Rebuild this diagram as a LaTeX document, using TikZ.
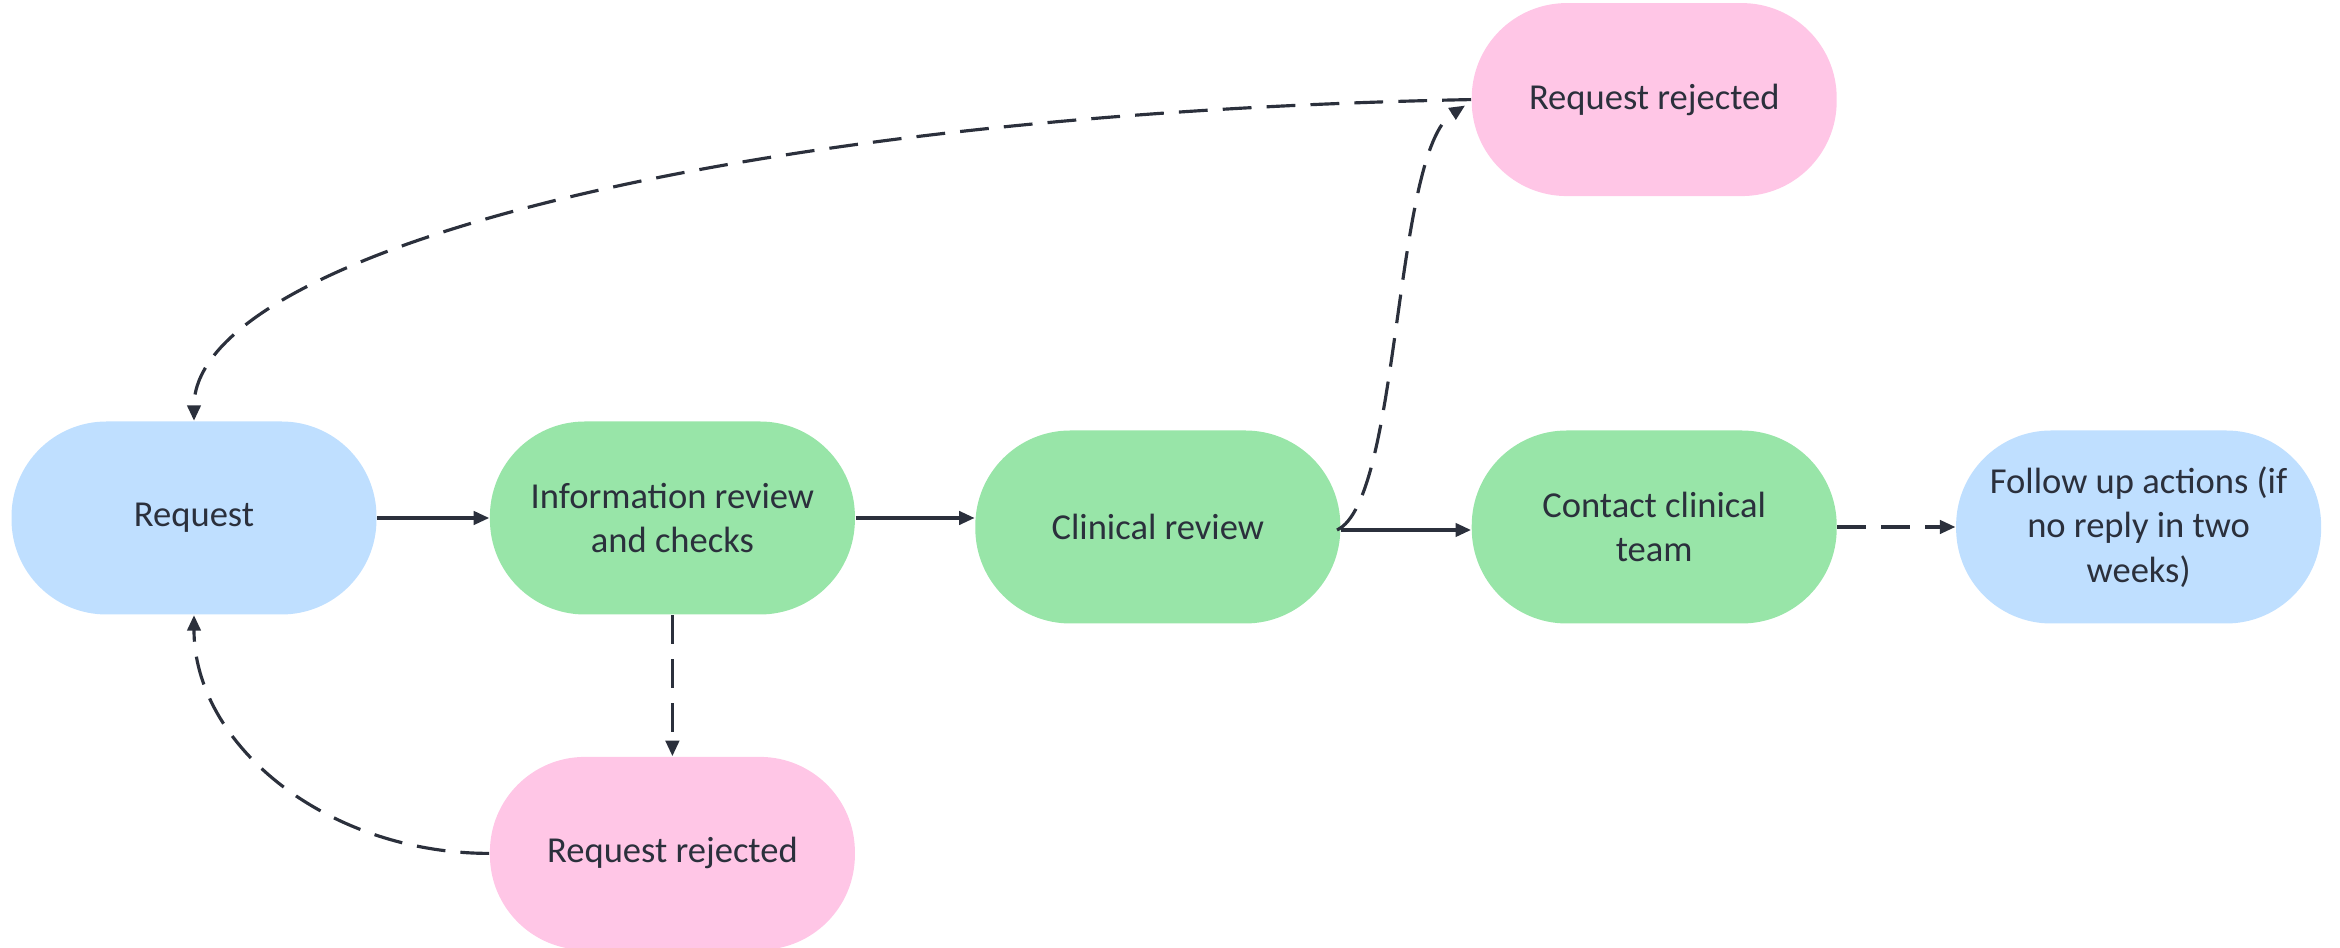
\documentclass[tikz,border=0pt]{standalone}
\usepackage{fontspec}
\setmainfont{Carlito}
\usetikzlibrary{arrows.meta,calc}

\definecolor{reqblue}{HTML}{BFDFFF}
\definecolor{stepgreen}{HTML}{98E5A8}
\definecolor{rejpink}{HTML}{FFC6E6}
\definecolor{inkdark}{HTML}{2B303C}

\begin{document}
\begin{tikzpicture}[>={Triangle[length=4.4pt,width=3.8pt]}]

\tikzstyle{basenode}=[rectangle,inner sep=0mm,minimum height=1.93cm,minimum width=3.65cm,rounded corners=0.95cm,align=center,text=inkdark,font=\fontsize{10.4}{12.7}\selectfont]
\tikzstyle{bluenode}=[basenode,fill=reqblue]
\tikzstyle{greennode}=[basenode,fill=stepgreen]
\tikzstyle{pinknode}=[basenode,fill=rejpink]
\tikzstyle{flowline}=[line width=0.9pt,draw=inkdark]
\tikzstyle{dashline}=[flowline,dash pattern=on 8.2pt off 4.3pt]

\useasboundingbox (0,0) rectangle (23.4,-9.48);

\begin{scope}[]

\node [bluenode] (request) at (1.94,-5.18){Request};
\node [anchor=west,greennode] (info) at ([xshift=1.12cm,yshift=0cm]request.east){Information review\\and checks};
\node [anchor=west,greennode] (clinical) at ([xshift=1.19cm,yshift=-0.09cm]info.east){Clinical review};
\node [anchor=west,greennode] (contact) at ([xshift=1.30cm,yshift=0cm]clinical.east){Contact clinical\\team};
\node [anchor=west,bluenode] (follow) at ([xshift=1.18cm,yshift=0cm]contact.east){Follow up actions (if\\no reply in two\\weeks)};
\node [anchor=north,pinknode] (rej2) at ([xshift=0cm,yshift=-1.41cm]info.south){Request rejected};
\node [anchor=south,pinknode] (rej1) at ([xshift=0cm,yshift=2.33cm]contact.north){Request rejected};


\draw[->,flowline] ([xshift=0cm,yshift=0cm]request.east)--([xshift=0cm,yshift=0cm]info.west);
\draw[->,flowline] ([xshift=0cm,yshift=0cm]info.east)--([xshift=0cm,yshift=0cm]info.east -| clinical.west);
\draw[->,flowline] ([xshift=0cm,yshift=-0.03cm]clinical.east)--([xshift=0cm,yshift=-0.03cm]contact.west);
\draw[->,dashline] ([xshift=0cm,yshift=0cm]contact.east)--([xshift=0cm,yshift=0cm]follow.west);
\draw[->,dashline] ([xshift=0cm,yshift=0cm]info.south)--([xshift=0cm,yshift=0cm]rej2.north);


\draw[->,dashline] (rej2.west) .. controls +(-1.62,0) and +(0,-1.30) .. (request.south);
\draw[->,dashline] (rej1.west) .. controls +(-7.73,-0.15) and +(0,1.61) .. (request.north);
\draw[->,dashline] ([xshift=-0.04cm,yshift=-0.03cm]clinical.east) .. controls +(0.64,0.3) and +(-0.72,-0.46) .. ([xshift=-0.06cm,yshift=-0.06cm]rej1.west);


\end{scope}
\end{tikzpicture}
\end{document}
